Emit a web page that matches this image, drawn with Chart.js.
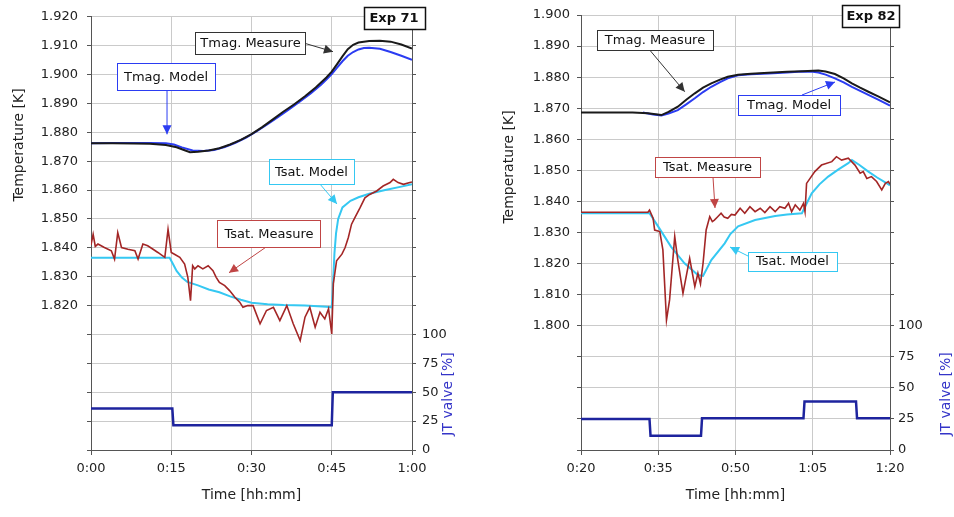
<!DOCTYPE html>
<html><head><meta charset="utf-8">
<script src="https://cdn.jsdelivr.net/npm/chart.js@4.4.1/dist/chart.umd.min.js"></script>
<style>
html,body{margin:0;padding:0;background:#fff;width:954px;height:517px;overflow:hidden}
.pane{position:absolute;top:0;width:477px;height:517px}
</style></head><body>
<div class="pane" style="left:0"><canvas id="c71" width="477" height="517"></canvas></div>
<div class="pane" style="left:477px"><canvas id="c82" width="477" height="517"></canvas></div>
<script>
// ---------- DATA (time in minutes, temperature in K, valve in %) ----------
const exp71TimeTicks = [0, 15, 30, 45, 60];
const exp82TimeTicks = [20, 35, 50, 65, 80];

const exp71TmagMeasure = [[0,1.8762],[4,1.8762],[8,1.8761],[11,1.8760],[14,1.8756],[16,1.8748],[17.5,1.8738],[18.5,1.8731],[20,1.8733],[22,1.8737],[24,1.8745],[26,1.8758],[28,1.8774],[30,1.8794],[32,1.8818],[34,1.8845],[36,1.8872],[38,1.8897],[40,1.8925],[42,1.8955],[44,1.8990],[45,1.9010],[46,1.9036],[47,1.9063],[48,1.9088],[49,1.9103],[50,1.9111],[52,1.9116],[54,1.9117],[56,1.9114],[58,1.9104],[60,1.9090]];
const exp71TmagModel = [[0,1.8762],[4,1.8763],[8,1.8763],[11,1.8763],[14,1.8762],[15.5,1.8758],[17,1.8748],[19,1.8737],[21,1.8735],[23,1.8739],[25,1.8749],[27,1.8764],[29,1.8782],[31,1.8804],[33,1.8828],[35,1.8853],[37,1.8879],[39,1.8906],[41,1.8934],[43,1.8965],[44,1.8983],[45,1.9002],[46,1.9024],[47,1.9046],[48,1.9065],[49,1.9078],[50,1.9087],[51,1.9092],[52,1.9093],[54,1.9089],[56,1.9078],[58,1.9065],[60,1.9051]];
const exp71TsatMeasure = [[0,1.8410],[0.4,1.8447],[0.8,1.8405],[1.3,1.8413],[2.5,1.8401],[3.8,1.8390],[4.4,1.8361],[5.0,1.8453],[5.7,1.8401],[6.9,1.8395],[8.2,1.8390],[8.8,1.8361],[9.7,1.8413],[10.6,1.8407],[11.6,1.8395],[12.5,1.8384],[13.8,1.8367],[14.4,1.8464],[15.0,1.8384],[15.6,1.8378],[16.6,1.8367],[17.5,1.8344],[18.1,1.8298],[18.6,1.8217],[19.0,1.8338],[19.4,1.8327],[20.0,1.8338],[20.9,1.8327],[21.9,1.8338],[22.8,1.8321],[23.4,1.8298],[24.0,1.8280],[25.0,1.8269],[25.9,1.8252],[26.9,1.8229],[27.8,1.8212],[28.4,1.8194],[29.3,1.8200],[30.3,1.8200],[31.6,1.8137],[32.8,1.8183],[34.1,1.8194],[35.3,1.8148],[36.6,1.8200],[37.8,1.8137],[39.1,1.8079],[40.0,1.8160],[40.9,1.8194],[41.9,1.8125],[42.8,1.8177],[43.7,1.8154],[44.4,1.8189],[45.0,1.8102],[45.3,1.8276],[45.9,1.8355],[46.9,1.8378],[47.5,1.8401],[48.1,1.8436],[48.7,1.8482],[49.3,1.8504],[50.3,1.8539],[51.2,1.8573],[52.1,1.8585],[53.4,1.8597],[54.6,1.8614],[55.9,1.8626],[56.5,1.8637],[57.4,1.8626],[58.4,1.8620],[59.6,1.8626],[60,1.8628]];
const exp71TsatModel = [[0,1.8366],[14.7,1.8366],[15.3,1.8345],[16,1.8320],[17,1.8297],[18,1.8282],[20,1.8270],[22,1.8256],[24,1.8246],[26,1.8232],[28,1.8220],[30,1.8210],[33,1.8205],[36,1.8202],[40,1.8200],[44,1.8196],[45,1.8194],[45.2,1.8260],[45.5,1.8380],[45.8,1.8450],[46.2,1.8500],[47,1.8540],[48.5,1.8563],[50,1.8575],[52,1.8587],[55,1.8600],[58,1.8612],[60,1.8620]];
const exp71JtValve = [[0,36],[15.2,36],[15.4,21.5],[45,21.5],[45.2,50],[60,50]];

const exp82TmagMeasure = [[20,1.8686],[30,1.8686],[33,1.8684],[35.6,1.8678],[37,1.8688],[38.8,1.8705],[40.5,1.8728],[42.1,1.8748],[43.7,1.8766],[45.3,1.8780],[47,1.8792],[48.5,1.8801],[50.5,1.8808],[53,1.8811],[56.4,1.8814],[60,1.8817],[63,1.8819],[66.1,1.8821],[67.5,1.8818],[69.3,1.8810],[71,1.8796],[72.6,1.8780],[74.2,1.8766],[75.8,1.8753],[77.8,1.8737],[80,1.8719]];
const exp82TmagModel = [[32,1.8686],[34,1.8680],[35.6,1.8677],[37,1.8683],[38.8,1.8694],[40.5,1.8713],[42.1,1.8732],[43.7,1.8752],[45.3,1.8769],[47,1.8784],[48.5,1.8796],[50.5,1.8806],[53,1.8809],[56.4,1.8812],[60,1.8815],[62.9,1.8818],[65,1.8817],[66.1,1.8815],[67.5,1.8808],[69.3,1.8796],[71,1.8783],[72.6,1.8769],[74.2,1.8756],[75.8,1.8743],[77.8,1.8727],[80,1.8708]];
const exp82TsatMeasure = [[20,1.8365],[33,1.8365],[33.3,1.8372],[34,1.8346],[34.3,1.8308],[35.3,1.8303],[35.9,1.8244],[36.6,1.8018],[37.2,1.8083],[38.2,1.8287],[38.8,1.8211],[39.8,1.8104],[41.1,1.8217],[42.1,1.8126],[42.7,1.8169],[43.2,1.8135],[43.7,1.8201],[44.3,1.8308],[45.0,1.8351],[45.5,1.8335],[45.9,1.8340],[46.5,1.8350],[47.2,1.8362],[47.8,1.8350],[48.5,1.8346],[49.2,1.8358],[49.9,1.8356],[50.9,1.8378],[51.8,1.8362],[52.8,1.8383],[53.8,1.8367],[54.8,1.8378],[55.7,1.8364],[56.7,1.8383],[57.7,1.8367],[58.6,1.8383],[59.6,1.8378],[60.3,1.8394],[60.9,1.8367],[61.6,1.8389],[62.5,1.8372],[63.2,1.8394],[63.5,1.8367],[63.8,1.8458],[65.4,1.8496],[66.7,1.8517],[68.7,1.8528],[69.6,1.8544],[70.6,1.8533],[71.9,1.8539],[73.2,1.8517],[74.2,1.8491],[74.8,1.8496],[75.5,1.8474],[76.4,1.8480],[77.4,1.8464],[78.4,1.8437],[79.1,1.8458],[79.7,1.8464],[80,1.8455]];
const exp82TsatModel = [[20,1.8362],[33.3,1.8362],[35,1.8319],[37.5,1.8254],[40.1,1.8201],[42.7,1.8163],[43.7,1.8160],[45.3,1.8211],[47.9,1.8265],[49,1.8295],[50.5,1.8320],[53.8,1.8340],[57.7,1.8353],[60,1.8358],[62.9,1.8362],[63.5,1.8383],[64.8,1.8426],[66.3,1.8455],[68,1.8480],[70,1.8503],[71.9,1.8523],[72.6,1.8533],[74,1.8518],[75.8,1.8496],[77.5,1.8477],[79.4,1.8458],[80,1.8452]];
const exp82JtValve = [[20,25],[33.3,25],[33.5,11.5],[43.3,11.5],[43.5,25.5],[63.2,25.5],[63.4,39],[73.4,39],[73.6,25.5],[80,25.5]];

// ---------- STYLE ----------
Chart.defaults.font.family = "'DejaVu Sans', Verdana, sans-serif";
Chart.defaults.font.size = 13;
Chart.defaults.color = '#222';

const COL = {
  tmagMeasure: '#1a1a1a', tmagModel: '#2b3cf2', tsatMeasure: '#a32626',
  tsatModel: '#35c8f2', jt: '#1e249e', grid: '#cacaca', axis: '#555', jtTitle: '#3434c8'
};

const fmtTime = v => Math.floor(v / 60) + ':' + String(Math.round(v % 60)).padStart(2, '0');

function arrow(ctx, x1, y1, x2, y2, color) {
  ctx.strokeStyle = color; ctx.lineWidth = 1;
  ctx.beginPath(); ctx.moveTo(x1, y1); ctx.lineTo(x2, y2); ctx.stroke();
  const a = Math.atan2(y2 - y1, x2 - x1), L = 9, W = 4.5;
  ctx.fillStyle = color; ctx.beginPath(); ctx.moveTo(x2, y2);
  ctx.lineTo(x2 - L * Math.cos(a) + W * Math.sin(a), y2 - L * Math.sin(a) - W * Math.cos(a));
  ctx.lineTo(x2 - L * Math.cos(a) - W * Math.sin(a), y2 - L * Math.sin(a) + W * Math.cos(a));
  ctx.closePath(); ctx.fill();
}

const notesPlugin = {
  id: 'notes',
  afterDraw(chart, args, opts) {
    const ctx = chart.ctx, xs = chart.scales.x, ys = chart.scales.y;
    ctx.save();
    for (const n of opts.items || []) {
      if (n.from) arrow(ctx, xs.getPixelForValue(n.from[0]), ys.getPixelForValue(n.from[1]),
                        xs.getPixelForValue(n.to[0]), ys.getPixelForValue(n.to[1]), n.color);
      ctx.font = (n.bold ? 'bold ' : '') + '13px ' + Chart.defaults.font.family;
      const tw = ctx.measureText(n.text).width;
      const w = Math.round(tw + 2 * n.padX), h = n.h;
      const cx = xs.getPixelForValue(n.at[0]), cy = ys.getPixelForValue(n.at[1]);
      const x0 = Math.round(cx - w / 2) + 0.5, y0 = Math.round(cy - h / 2) + 0.5;
      ctx.fillStyle = '#fff'; ctx.fillRect(x0, y0, w, h);
      ctx.strokeStyle = n.color; ctx.lineWidth = n.bold ? 1.5 : 1;
      ctx.strokeRect(x0, y0, w, h);
      ctx.fillStyle = '#111'; ctx.textAlign = 'center'; ctx.textBaseline = 'middle';
      ctx.fillText(n.text, cx, cy + 1);
    }
    for (const t of opts.titles || []) {
      ctx.save();
      ctx.translate(t.x, t.y); ctx.rotate(-Math.PI / 2);
      ctx.font = '14px ' + Chart.defaults.font.family;
      ctx.fillStyle = t.color; ctx.textAlign = 'center'; ctx.textBaseline = 'middle';
      ctx.fillText(t.text, 0, 0);
      ctx.restore();
    }
    ctx.restore();
  }
};

function line(label, pts, color, width, axis) {
  return { label, data: pts.map(p => ({ x: p[0], y: p[1] })), borderColor: color,
    backgroundColor: color, borderWidth: width, pointRadius: 0, tension: 0,
    yAxisID: axis || 'y', fill: false };
}

function build(id, c) {
  return new Chart(document.getElementById(id), {
    type: 'line',
    data: { datasets: [
      line('Tsat. Measure', c.tsatMeasure, COL.tsatMeasure, 1.6),
      line('Tmag. Measure', c.tmagMeasure, COL.tmagMeasure, 2),
      line('Tmag. Model', c.tmagModel, COL.tmagModel, 2),
      line('Tsat. Model', c.tsatModel, COL.tsatModel, 2),
      line('JT valve', c.jt, COL.jt, 2.5, 'y2')
    ]},
    options: {
      responsive: false, animation: false, devicePixelRatio: 1,
      layout: { padding: { top: 15, left: 0, right: 0, bottom: 0 } },
      plugins: { legend: { display: false }, tooltip: { enabled: false },
        notes: { items: c.notes, titles: c.titles } },
      scales: {
        x: { type: 'linear', min: c.xMin, max: c.xMax,
          afterBuildTicks: s => { s.ticks = c.xTicks.map(v => ({ value: v })); },
          ticks: { callback: fmtTime, padding: 6, maxRotation: 0, autoSkip: false, color: '#222' },
          grid: { color: COL.grid, tickColor: COL.axis, tickLength: 5 },
          border: { color: COL.axis },
          title: { display: true, text: 'Time [hh:mm]', color: '#222', font: { size: 14 }, padding: { top: 0, bottom: 13 } },
          afterFit: s => { s.height = 67; } },
        y: { position: 'left', min: c.yMin, max: c.yMax,
          ticks: { stepSize: 0.01, autoSkip: false, padding: c.yPad, color: '#222',
            callback: v => (v >= c.yLabelMin - 1e-6 ? Number(v).toFixed(3) : '') },
          grid: { color: COL.grid, tickColor: COL.axis, tickLength: 4 },
          border: { color: COL.axis },
          afterFit: s => { s.width = c.leftW; } },
        y2: { position: 'right', min: 0, max: c.y2Max,
          ticks: { stepSize: 25, autoSkip: false, padding: c.y2Pad, color: '#222',
            callback: v => (v <= 100 ? String(v) : '') },
          grid: { drawOnChartArea: false, tickColor: COL.axis, tickLength: 4 },
          border: { color: COL.axis },
          afterFit: s => { s.width = c.rightW; } }
      }
    },
    plugins: [notesPlugin]
  });
}

build('c71', {
  xMin: 0, xMax: 60, xTicks: exp71TimeTicks, yMin: 1.77, yMax: 1.92, yLabelMin: 1.82, y2Max: 375,
  leftW: 91, rightW: 65, yPad: 9, y2Pad: 6,
  tmagMeasure: exp71TmagMeasure, tmagModel: exp71TmagModel, tsatMeasure: exp71TsatMeasure,
  tsatModel: exp71TsatModel, jt: exp71JtValve,
  notes: [
    { text: 'Exp 71', at: [56.64, 1.91966], padX: 6, h: 22, color: '#111', bold: true },
    { text: 'Tmag. Measure', at: [29.81, 1.91103], padX: 5, h: 22, color: '#333', from: [40.19, 1.91069], to: [45.23, 1.90793] },
    { text: 'Tmag. Model', at: [14.02, 1.89931], padX: 7, h: 27, color: COL.tmagModel, from: [14.21, 1.89448], to: [14.21, 1.87931] },
    { text: 'Tsat. Model', at: [41.2, 1.86638], padX: 6, h: 25, color: COL.tsatModel, from: [42.8, 1.86207], to: [45.98, 1.85517] },
    { text: 'Tsat. Measure', at: [33.27, 1.84483], padX: 7, h: 27, color: '#c04545', from: [32.52, 1.8400], to: [25.79, 1.83138] }
  ],
  titles: [
    { text: 'Temperature [K]', x: 19, y: 145, color: '#222' },
    { text: 'JT valve [%]', x: 448, y: 394, color: COL.jtTitle }
  ]
});

build('c82', {
  xMin: 20, xMax: 80, xTicks: exp82TimeTicks, yMin: 1.76, yMax: 1.90, yLabelMin: 1.80, y2Max: 350,
  leftW: 104, rightW: 64, yPad: 7, y2Pad: 4,
  tmagMeasure: exp82TmagMeasure, tmagModel: exp82TmagModel, tsatMeasure: exp82TsatMeasure,
  tsatModel: exp82TsatModel, jt: exp82JtValve,
  notes: [
    { text: 'Exp 82', at: [76.31, 1.89968], padX: 4, h: 22, color: '#111', bold: true },
    { text: 'Tmag. Measure', at: [34.37, 1.89195], padX: 8, h: 20, color: '#333', from: [33.01, 1.88938], to: [40.14, 1.87531] },
    { text: 'Tmag. Model', at: [60.39, 1.87103], padX: 9, h: 20, color: COL.tmagModel, from: [62.91, 1.87425], to: [69.32, 1.87844] },
    { text: 'Tsat. Measure', at: [44.56, 1.85108], padX: 8, h: 20, color: '#c04545', from: [45.63, 1.84786], to: [46.02, 1.83788] },
    { text: 'Tsat. Model', at: [61.07, 1.82082], padX: 8, h: 19, color: COL.tsatModel, from: [52.82, 1.82211], to: [48.93, 1.82533] }
  ],
  titles: [
    { text: 'Temperature [K]', x: 32, y: 167, color: '#222' },
    { text: 'JT valve [%]', x: 469, y: 394, color: COL.jtTitle }
  ]
});
</script></body></html>
